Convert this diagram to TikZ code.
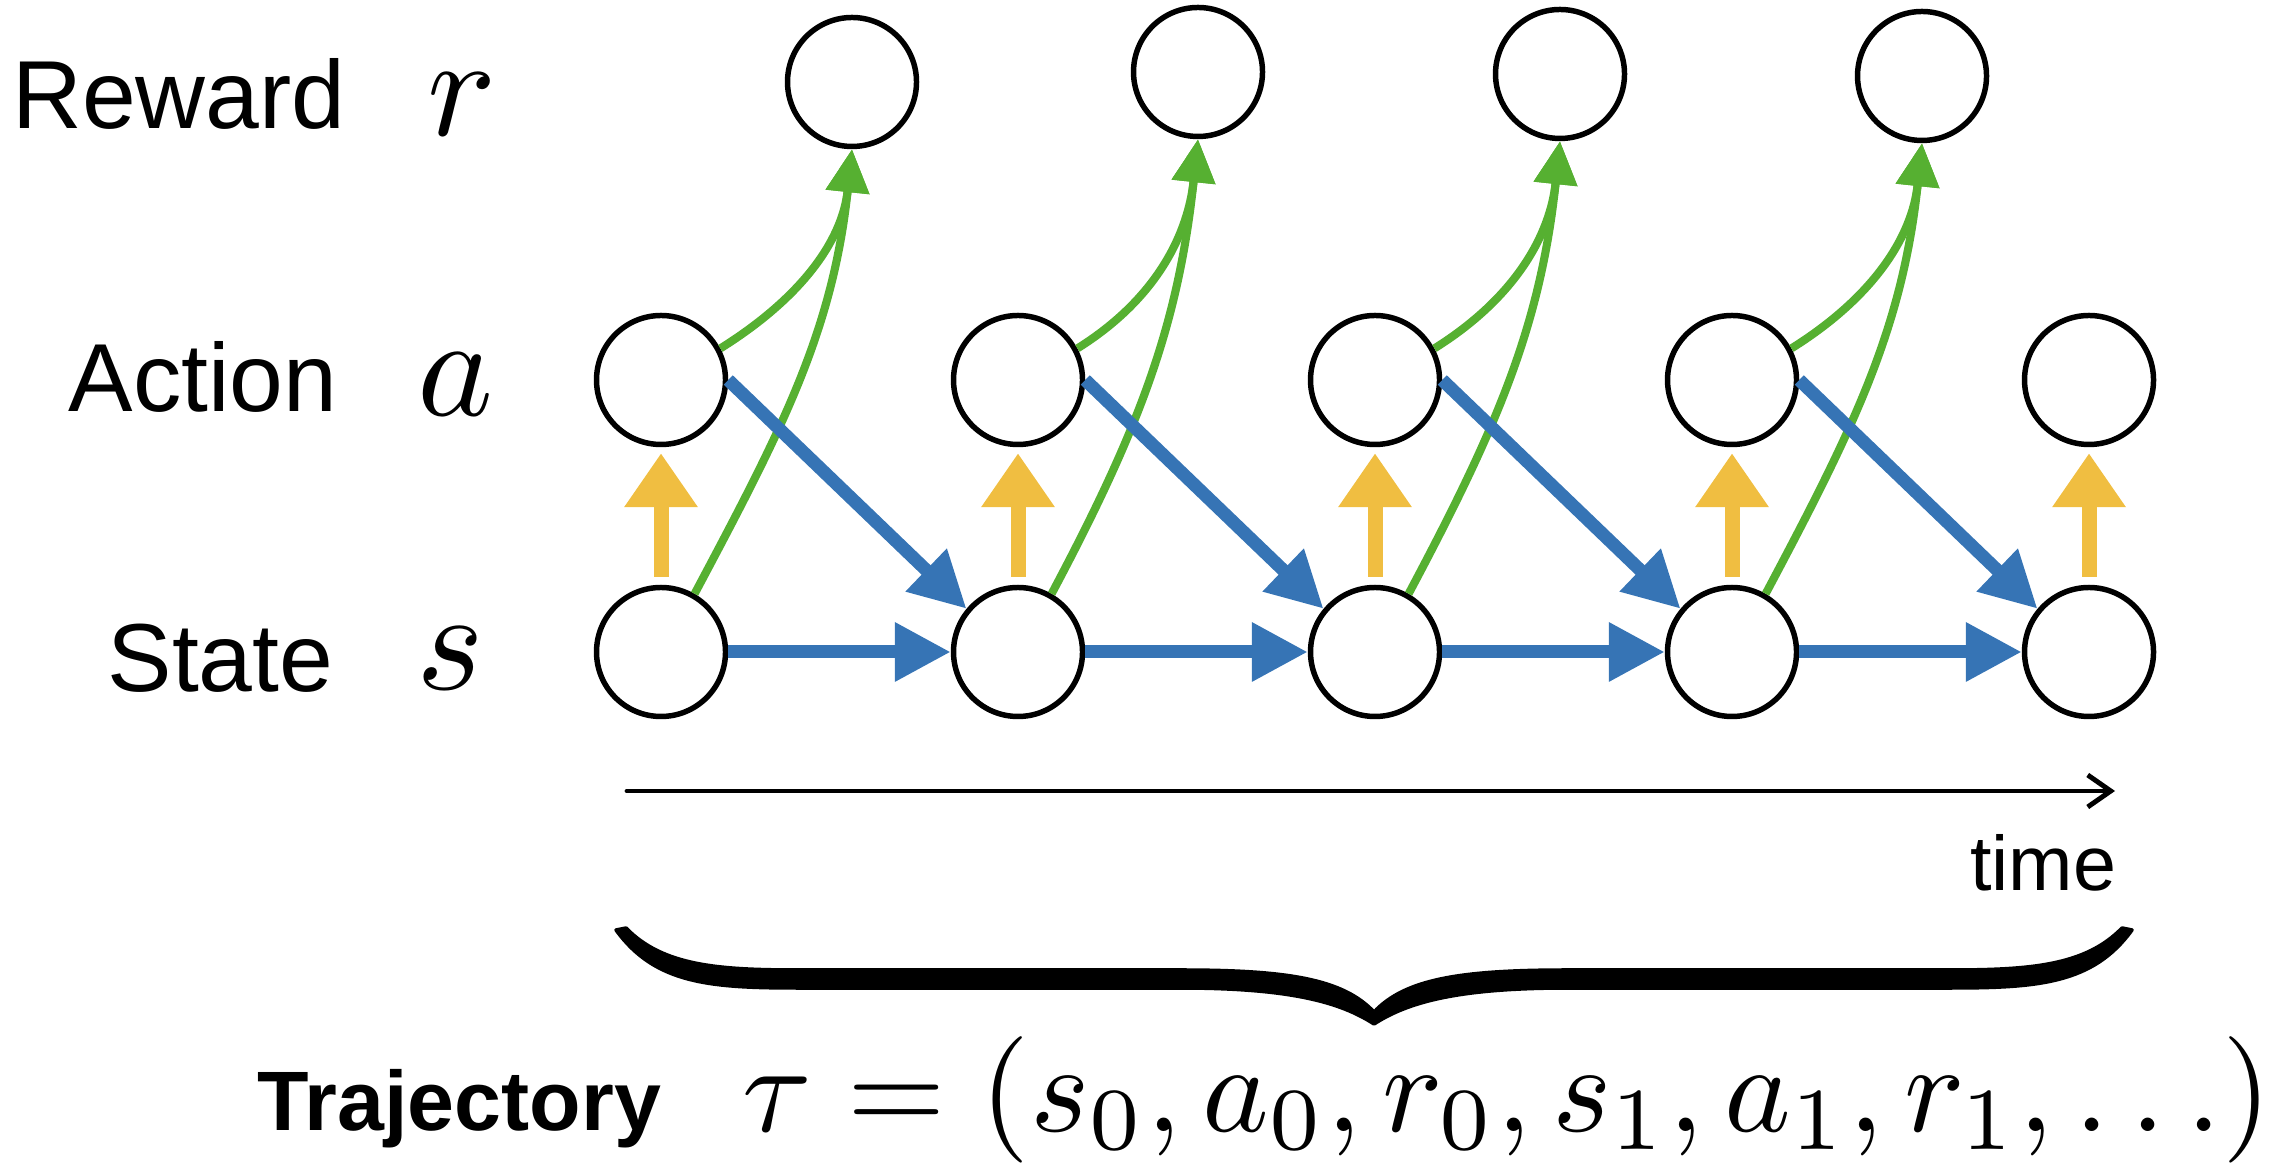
\documentclass[tikz,border=0pt]{standalone}
\usepackage{graphicx}
\usepackage{fontspec}
\setsansfont{Liberation Sans}
\usetikzlibrary{arrows.meta}
\definecolor{stepblue}{RGB}{54,116,181}
\definecolor{rewgreen}{RGB}{86,176,49}
\definecolor{polyellow}{RGB}{240,190,65}

\begin{document}
\begin{tikzpicture}[line join=round,line cap=round,>=stealth]
	\useasboundingbox (0,0) rectangle (22.7,11.64);
	\tikzset{
		st/.style={draw,circle,line width=1.56pt,minimum size=1.29cm,inner sep=0pt},
		blu/.style={draw=stepblue,line width=3.7pt,line cap=butt,-{Triangle[length=0.56cm,width=0.56cm]}},
		grn/.style={draw=rewgreen,line width=2.3pt,line cap=butt,-{Triangle[length=0.43cm,width=0.42cm]}},
		yel/.style={draw=polyellow,line width=0.15cm,line cap=butt,-{Triangle[length=0.54cm,width=0.7cm]},shorten <=0.08cm,shorten >=0.06cm},
		lab/.style={font=\sffamily\fontsize{27.5}{30}\selectfont,inner sep=0pt,anchor=base east},
		var/.style={inner sep=0pt,anchor=base west}
	}
	% rows: state, action, reward
	\node[st] (s1) at (6.61,5.12) {};
	\node[st] (s2) at (10.18,5.12) {};
	\node[st] (s3) at (13.75,5.12) {};
	\node[st] (s4) at (17.32,5.12) {};
	\node[st] (s5) at (20.89,5.12) {};
	\node[st] (a1) at (6.61,7.84) {};
	\node[st] (a2) at (10.18,7.84) {};
	\node[st] (a3) at (13.75,7.84) {};
	\node[st] (a4) at (17.32,7.84) {};
	\node[st] (a5) at (20.89,7.84) {};
	\node[st] (r1) at (8.52,10.82) {};
	\node[st] (r2) at (11.98,10.92) {};
	\node[st] (r3) at (15.60,10.90) {};
	\node[st] (r4) at (19.22,10.88) {};
	
	\node[lab] (lr) at (3.46,10.35) {Reward};
	\node[lab] (la) at (3.38,7.52) {Action};
	\node[lab] (ls) at (3.34,4.72) {State};
	\node[var] (vr) at (4.27,10.28) {\scalebox{4.1}{$r$}};
	\node[var] (va) at (4.17,7.48) {\scalebox{4.1}{$a$}};
	\node[var] (vs) at (4.16,4.74) {\scalebox{4.1}{$s$}};
	
	\draw[grn] (a1.28) to[out=32,in=-96] (r1.south);
	\draw[grn] (s1.60) to[out=62,in=-96] (r1.south);
	\draw[grn] (a2.28) to[out=32,in=-96] (r2.south);
	\draw[grn] (s2.60) to[out=62,in=-96] (r2.south);
	\draw[grn] (a3.28) to[out=32,in=-96] (r3.south);
	\draw[grn] (s3.60) to[out=62,in=-96] (r3.south);
	\draw[grn] (a4.28) to[out=32,in=-96] (r4.south);
	\draw[grn] (s4.60) to[out=62,in=-96] (r4.south);
	
	\draw[blu] (s1.east) -- (s2.west);
	\draw[blu] (s2.east) -- (s3.west);
	\draw[blu] (s3.east) -- (s4.west);
	\draw[blu] (s4.east) -- (s5.west);
	\draw[blu] (a1.east) -- (s2.140);
	\draw[blu] (a2.east) -- (s3.140);
	\draw[blu] (a3.east) -- (s4.140);
	\draw[blu] (a4.east) -- (s5.140);
	
	\draw[yel] (s1.north) -- (a1.south);
	\draw[yel] (s2.north) -- (a2.south);
	\draw[yel] (s3.north) -- (a3.south);
	\draw[yel] (s4.north) -- (a4.south);
	\draw[yel] (s5.north) -- (a5.south);
	
	% time axis
	\coordinate (t0) at (6.27,3.73);
	\coordinate (t1) at (21.15,3.73);
	\draw[line width=1.4pt,-{Straight Barb[length=0.23cm,width=0.32cm]}] (t0) -- (t1);
	\node[font=\sffamily\fontsize{22}{24}\selectfont,inner sep=0pt,anchor=base east] (tm) at (21.17,2.73) {time};
	
	% brace
	\fill[draw=black,line width=1pt] (6.16,2.34) .. controls (6.55,1.80) and (7.10,1.76) .. (8.00,1.76)
	-- (11.80,1.76) .. controls (12.90,1.76) and (13.40,1.62) .. (13.74,1.40)
	.. controls (14.08,1.62) and (14.58,1.76) .. (15.68,1.76)
	-- (19.48,1.76) .. controls (20.38,1.76) and (20.93,1.80) .. (21.32,2.34)
	-- (21.22,2.36) .. controls (20.85,1.98) and (20.30,1.94) .. (19.48,1.94)
	-- (15.68,1.94) .. controls (14.60,1.94) and (14.05,1.85) .. (13.74,1.52)
	.. controls (13.43,1.85) and (12.88,1.94) .. (11.80,1.94)
	-- (8.00,1.94) .. controls (7.18,1.94) and (6.63,1.98) .. (6.26,2.36) -- cycle;
	
	\node[font=\sffamily\bfseries\fontsize{24}{28}\selectfont,inner sep=0pt,anchor=base west] (traj) at (2.57,0.33) {Trajectory};
	\node[inner sep=0pt,anchor=base west] (tau) at (7.42,0.33) {\scalebox{3.6}{$\tau = (s_0, a_0, r_0, s_1, a_1, r_1, \ldots)$}};
\end{tikzpicture}
\end{document}
